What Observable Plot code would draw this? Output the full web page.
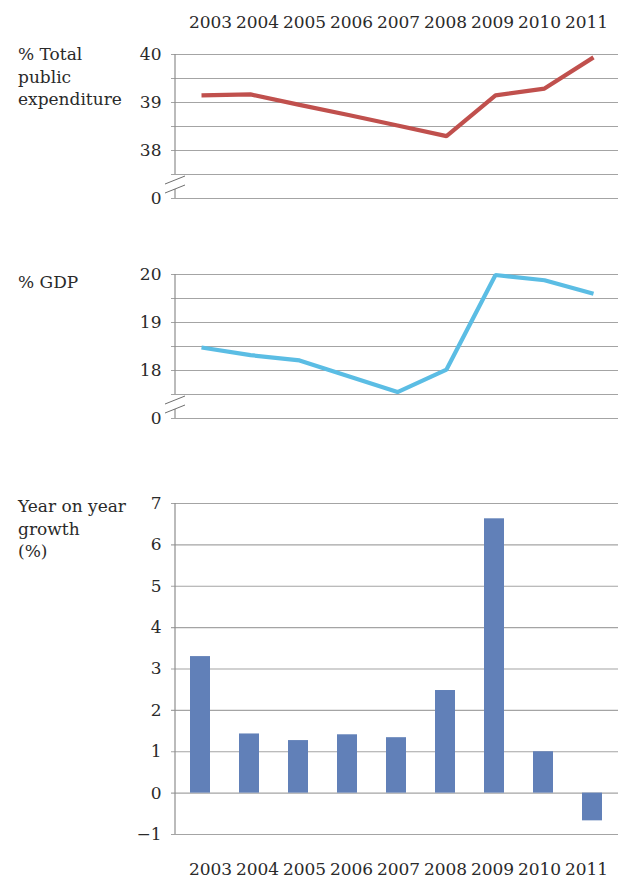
<!DOCTYPE html>
<html>
<head>
<meta charset="utf-8">
<script src="https://cdn.jsdelivr.net/npm/d3@7"></script>
<script src="https://cdn.jsdelivr.net/npm/@observablehq/plot@0.6"></script>
<style>
  html, body { margin: 0; padding: 0; background: #ffffff; }
  #chart { position: relative; width: 619px; height: 877px; font-family: "DejaVu Serif", serif; color: #2a2a2a; overflow: hidden; }
  .panel { position: absolute; left: 0; }
  .title { position: absolute; left: 18px; font-size: 17px; line-height: 22.5px; white-space: nowrap; }
</style>
</head>
<body>
<div id="chart"></div>
<script>
// ---- data ----
const years = ["2003", "2004", "2005", "2006", "2007", "2008", "2009", "2010", "2011"];
const expenditureShare = [39.15, 39.17, 38.95, 38.74, 38.52, 38.30, 39.15, 39.29, 39.94];
const gdpShare = [18.48, 18.32, 18.21, 17.88, 17.55, 18.02, 19.99, 19.88, 19.60];
const growth = [3.30, 1.43, 1.27, 1.41, 1.34, 2.48, 6.63, 1.00, -0.67];

const expTicks = [37, 38, 39, 40];
const expTickLabels = ["0", "38", "39", "40"];
const gdpTicks = [17, 18, 19, 20];
const gdpTickLabels = ["0", "18", "19", "20"];
const growthTicks = [-1, 0, 1, 2, 3, 4, 5, 6, 7];

const titleExp = ["% Total", "public", "expenditure"];
const titleGdp = ["% GDP"];
const titleGrowth = ["Year on year", "growth", "(%)"];

// ---- style ----
const TEXT = "#2a2a2a";
const GRID = "#a4a4a4";
const AXIS = "#8e8e8e";
const FONT = "DejaVu Serif";
const FS = "17px";

const chart = document.getElementById("chart");

function place(node, top) {
  node.classList.add("panel");
  node.style.top = top + "px";
  chart.appendChild(node);
}
function addTitle(lines, top) {
  const div = document.createElement("div");
  div.className = "title";
  div.style.top = top + "px";
  div.innerHTML = lines.join("<br>");
  chart.appendChild(div);
}

function linePanel(values, ticks, tickLabels, color, top) {
  const lo = ticks[0], hi = ticks[ticks.length - 1];
  const grid = d3.range(lo, hi + 0.001, 0.5);
  const data = years.map((year, i) => ({year, value: values[i]}));
  const plot = Plot.plot({
    width: 619, height: 210,
    marginLeft: 171, marginRight: 1, marginTop: 54, marginBottom: 12,
    style: {fontFamily: FONT, fontSize: FS, color: TEXT, background: "transparent", overflow: "visible"},
    x: {type: "point", domain: years, range: [175, 618], padding: 0.5, axis: null},
    y: {domain: [lo, hi], ticks: ticks, tickFormat: d => tickLabels[ticks.indexOf(d)], tickSize: 0, tickPadding: 10, label: null},
    marks: [
      Plot.ruleY(grid, {stroke: GRID, strokeWidth: 1.2}),
      Plot.line(data, {x: "year", y: "value", stroke: color, strokeWidth: 4.2, strokeLinejoin: "miter", strokeLinecap: "butt"})
    ]
  });
  // axis line with break
  const ys = plot.scale("y"), xs = plot.scale("x");
  const ax = xs.range[0];
  const yb = ys.apply(lo + 0.5), y0 = ys.apply(lo);
  const g = d3.select(plot).append("g").attr("fill", "none").attr("stroke", AXIS).attr("stroke-width", 1.2);
  g.append("line").attr("x1", ax).attr("x2", ax).attr("y1", ys.apply(hi)).attr("y2", yb);
  g.append("line").attr("x1", ax).attr("x2", ax).attr("y1", y0 - 9).attr("y2", y0);
  g.append("line").attr("x1", ax - 10).attr("y1", yb + 10).attr("x2", ax + 10).attr("y2", yb + 2).attr("stroke", "#6e6e6e").attr("stroke-width", 1);
  g.append("line").attr("x1", ax - 10).attr("y1", yb + 19).attr("x2", ax + 10).attr("y2", yb + 11).attr("stroke", "#6e6e6e").attr("stroke-width", 1);
  place(plot, top);
}

function barPanel(top) {
  const data = years.map((year, i) => ({year, value: growth[i]}));
  const plot = Plot.plot({
    width: 619, height: 400,
    marginLeft: 171, marginRight: 1, marginTop: 53, marginBottom: 16,
    style: {fontFamily: FONT, fontSize: FS, color: TEXT, background: "transparent", overflow: "visible"},
    x: {type: "band", domain: years, range: [175, 618], paddingInner: 0.59, paddingOuter: 0.295, axis: null},
    y: {domain: [growthTicks[0], growthTicks[growthTicks.length - 1]], ticks: growthTicks, tickSize: 0, tickPadding: 10, label: null},
    marks: [
      Plot.ruleY(growthTicks, {stroke: GRID, strokeWidth: 1.2}),
      Plot.barY(data, {x: "year", y: "value", fill: "#6180b8"})
    ]
  });
  const ys = plot.scale("y"), xs = plot.scale("x");
  const ax = xs.range[0];
  d3.select(plot).append("line")
    .attr("x1", ax).attr("x2", ax)
    .attr("y1", ys.apply(growthTicks[growthTicks.length - 1]))
    .attr("y2", ys.apply(growthTicks[0]))
    .attr("stroke", AXIS).attr("stroke-width", 1.2);
  place(plot, top);
}

function yearRow(top) {
  const plot = Plot.plot({
    width: 619, height: 30, margin: 0, marginBottom: 3,
    style: {fontFamily: FONT, fontSize: FS, color: TEXT, background: "transparent", overflow: "visible"},
    x: {type: "point", domain: years, range: [207.5, 587.5], padding: 0, axis: null},
    marks: [
      Plot.text(years, {x: d => d, text: d => d, frameAnchor: "bottom", lineAnchor: "bottom", textAnchor: "middle", fontSize: 17, fill: TEXT})
    ]
  });
  place(plot, top);
}

yearRow(0);
linePanel(expenditureShare, expTicks, expTickLabels, "#c0504d", 0);
linePanel(gdpShare, gdpTicks, gdpTickLabels, "#5bbde4", 220);
barPanel(450);
yearRow(847);

addTitle(titleExp, 43);
addTitle(titleGdp, 271);
addTitle(titleGrowth, 495);
</script>
</body>
</html>
